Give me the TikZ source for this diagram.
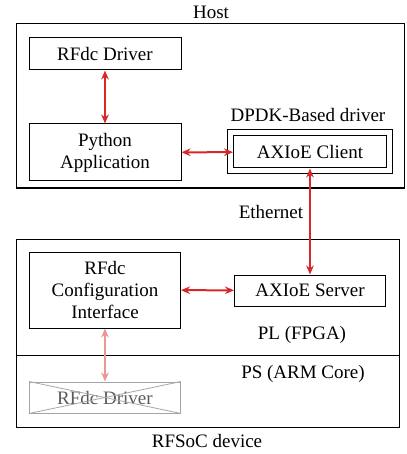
\documentclass[tikz,border=0pt]{standalone}
\usepackage{fontspec}
\setmainfont{Liberation Serif}
\usetikzlibrary{arrows.meta}
\definecolor{arrred}{RGB}{214,40,40}
\definecolor{arrpink}{RGB}{236,150,150}
\definecolor{xgray}{RGB}{90,90,90}
\definecolor{xline}{RGB}{165,165,165}
\tikzset{
  box/.style={draw, line width=0.5pt, inner sep=0pt, align=center, font=\fontsize{9.5}{11}\selectfont},
  lbl/.style={inner sep=0pt, font=\fontsize{9.5}{11}\selectfont},
  link/.style={arrred, line width=1pt, {Stealth[length=4.5pt,width=3.8pt]}-{Stealth[length=4.5pt,width=3.8pt]}},
  weaklink/.style={arrpink, line width=1pt, {Stealth[length=4.5pt,width=3.8pt]}-{Stealth[length=4.5pt,width=3.8pt]}},
}
\begin{document}
\begin{tikzpicture}[x=0.5pt,y=-0.5pt]
\useasboundingbox (0,0) rectangle (406,454);
% Host
\node[box, minimum width=194pt, minimum height=82pt] (host) at (210,106) {};
\node[lbl] (hostl) at (211,12) {Host};
\node[box, minimum width=76pt, minimum height=16pt] (rdrv) at (105,54) {RFdc Driver};
\node[box, minimum width=76pt, minimum height=28.5pt] (py) at (105,152.5) {Python\\Application};
\node[box, minimum width=82.5pt, minimum height=22pt] (dpdk) at (310,152) {};
\node[lbl] (dpdkl) at (308,115) {DPDK-Based driver};
\node[box, minimum width=76.5pt, minimum height=16pt] (client) at (310,152) {AXIoE Client};
% RFSoC
\node[box, minimum width=191.5pt, minimum height=94pt] (soc) at (207.5,333) {};
\coordinate (divl) at (16,355);
\coordinate (divr) at (399,355);
\draw[line width=0.5pt] (divl) -- (divr);
\node[lbl] (socl) at (207,441) {RFSoC device};
\node[box, minimum width=75.5pt, minimum height=38pt] (cfg) at (105,290) {RFdc\\Configuration\\Interface};
\node[box, minimum width=75.5pt, minimum height=15.5pt] (srv) at (310,290.5) {AXIoE Server};
\node[lbl] (pll) at (302,335) {PL (FPGA)};
\node[lbl] (psl) at (303,374) {PS (ARM Core)};
\node[box, draw=xline, text=xgray, minimum width=75.5pt, minimum height=15.5pt] (xdrv) at (105,397.5) {RFdc Driver};
\draw[xline, line width=0.4pt] (xdrv.north west) -- (xdrv.south east);
\draw[xline, line width=0.4pt] (xdrv.south west) -- (xdrv.north east);
\node[lbl] (eth) at (271,212) {Ethernet};
% links
\draw[link] (rdrv) -- (py);
\draw[link] (py) -- (client);
\draw[link] (client) -- (srv);
\draw[link] (cfg) -- (srv);
\draw[weaklink] (cfg) -- (xdrv);
\end{tikzpicture}
\end{document}
